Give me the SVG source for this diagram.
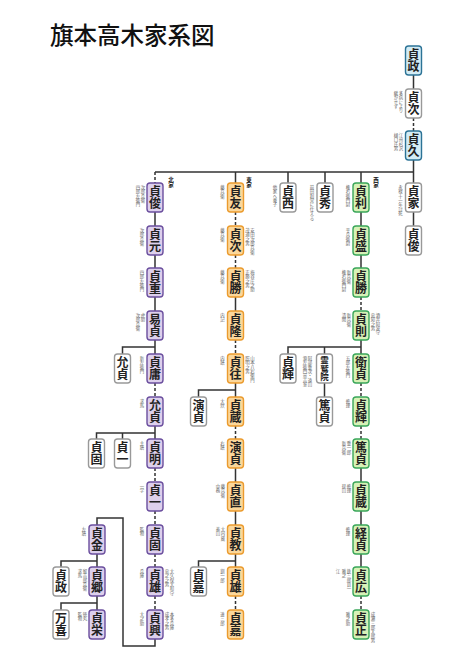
<svg xmlns="http://www.w3.org/2000/svg" width="474" height="669" viewBox="0 0 474 669">
<style>
.bg{fill:#fff}
rect.n{stroke-width:1.4}
.p{fill:#ddd0ec;stroke:#6b4f9e}
.o{fill:#fbd79b;stroke:#eb9b2e}
.g{fill:#d7f1b7;stroke:#3aa65a}
.b{fill:#d3ecf5;stroke:#2c7396}
.w{fill:#fff;stroke:#999}
.nm{font-family:"Noto Sans CJK JP","Noto Sans CJK SC",sans-serif;font-size:12px;font-weight:700;fill:#222;text-anchor:middle;writing-mode:vertical-rl;letter-spacing:0.3px}
.nm3{font-family:"Noto Sans CJK JP","Noto Sans CJK SC",sans-serif;font-size:8.5px;font-weight:700;fill:#222;text-anchor:middle;writing-mode:vertical-rl}
.ann{font-family:"Noto Sans CJK JP","Noto Sans CJK SC",sans-serif;font-size:4.4px;fill:#666;writing-mode:vertical-rl}
.lab{font-family:"Noto Sans CJK JP","Noto Sans CJK SC",sans-serif;font-size:5.5px;font-weight:700;fill:#222;writing-mode:vertical-rl}
.title{font-family:"Noto Sans CJK JP","Noto Sans CJK SC",sans-serif;font-size:23.5px;font-weight:500;fill:#111}
.c path{fill:none;stroke:#333;stroke-width:1.5}
.c path.d{stroke-dasharray:3 2}
</style>
<rect class="bg" x="0" y="0" width="474" height="669"/>
<text class="title" x="50" y="44">旗本高木家系図</text>

<g class="c" id="connectors">
<path d="M413.5,75V89M413.5,160V172M155,172H413.5"/>
<path class="d" d="M413.5,118V131"/>
<path class="d" d="M155,172V183M155,383V397M155,468V482M155,511V525M155,554V567M155,596V610"/>
<path d="M155,212V226M155,255V268M155,297V311M155,340V354M155,426V439"/>
<path d="M155,347H122.5V354M155,433H96.5V439M122.5,433V439M155,639V646H123V518H97V525"/>
<path d="M97,554V567M97,596V610M97,561H61V567M97,603H61V610"/>
<path d="M235.5,172V183M235.5,297V311M235.5,383V397M235.5,468V482M235.5,511V525M235.5,554V567"/>
<path class="d" d="M235.5,212V226M235.5,255V268M235.5,340V354M235.5,426V439M235.5,596V610"/>
<path d="M235.5,390H198.5V397M235.5,561H198.5V567"/>
<path d="M288,172V183M325,172V183M413.5,172V183M413.5,212V226"/>
<path d="M361,172V183M361,212V226M361,255V268M361,340V354M361,468V482M361,511V525M361,554V567"/>
<path class="d" d="M361,297V311M361,383V397M361,426V439M361,596V610"/>
<path d="M361,347H288V354M324.5,347V354M324.5,383V397"/>
</g>

<g id="n-sadamasa"><rect class="n b" x="405.5" y="46" width="16" height="29" rx="3"/><text class="nm" x="413.5" y="60.5">貞政</text></g>
<g id="n-sadatsugu0"><rect class="n w" x="405.5" y="89" width="16" height="29" rx="3"/><text class="nm" x="413.5" y="103.5">貞次</text><text class="ann" x="401" y="91">多病により</text><text class="ann" x="396" y="91">継がせず</text></g>
<g id="n-sadahisa"><rect class="n b" x="405.5" y="131" width="16" height="29" rx="3"/><text class="nm" x="413.5" y="145.5">貞久</text><text class="ann" x="401" y="133">江州杉沢</text><text class="ann" x="396" y="133">樋口氏男</text></g>

<text class="lab" x="171" y="177">北家</text>
<text class="lab" x="249" y="177">東家</text>
<text class="lab" x="376" y="177">西家</text>

<g id="n-n0"><rect class="n p" x="147" y="183" width="16" height="29" rx="3"/><text class="nm" x="155" y="197.5">貞俊</text><text class="ann" x="143" y="185">次郎兵衛</text><text class="ann" x="138" y="185">四郎左衛門</text></g>
<g id="n-n1"><rect class="n p" x="147" y="226" width="16" height="29" rx="3"/><text class="nm" x="155" y="240.5">貞元</text><text class="ann" x="142" y="228">次郎兵衛</text></g>
<g id="n-n2"><rect class="n p" x="147" y="268" width="16" height="29" rx="3"/><text class="nm" x="155" y="282.5">貞重</text><text class="ann" x="142" y="270">四郎左衛門</text></g>
<g id="n-n3"><rect class="n p" x="147" y="311" width="16" height="29" rx="3"/><text class="nm" x="155" y="325.5">易貞</text><text class="ann" x="143" y="313">虎助</text><text class="ann" x="138" y="313">次郎兵衛</text></g>
<g id="n-n4"><rect class="n p" x="147" y="354" width="16" height="29" rx="3"/><text class="nm" x="155" y="368.5">貞庸</text><text class="ann" x="142" y="356">新左衛門</text></g>
<g id="n-n5"><rect class="n p" x="147" y="397" width="16" height="29" rx="3"/><text class="nm" x="155" y="411.5">允貞</text><text class="ann" x="142" y="399">求馬</text></g>
<g id="n-n6"><rect class="n p" x="147" y="439" width="16" height="29" rx="3"/><text class="nm" x="155" y="453.5">貞明</text><text class="ann" x="142" y="441">主膳</text></g>
<g id="n-n7"><rect class="n p" x="147" y="482" width="16" height="29" rx="3"/><text class="nm" x="155" y="496.5">貞一</text><text class="ann" x="142" y="484">一学</text></g>
<g id="n-n8"><rect class="n p" x="147" y="525" width="16" height="29" rx="3"/><text class="nm" x="155" y="539.5">貞固</text><text class="ann" x="142" y="527">監物</text></g>
<g id="n-n9"><rect class="n p" x="147" y="567" width="16" height="29" rx="3"/><text class="nm" x="155" y="581.5">貞雄</text><text class="ann" x="142" y="569">兵庫</text><text class="ann" x="172" y="569">大久保大和守</text><text class="ann" x="167" y="569">忠之之男</text></g>
<g id="n-n10"><rect class="n p" x="147" y="610" width="16" height="29" rx="3"/><text class="nm" x="155" y="624.5">貞興</text><text class="ann" x="142" y="612">大之助</text><text class="ann" x="172" y="612">本多兵庫</text><text class="ann" x="167" y="612">成孝之男</text></g>
<g id="n-w-masasada"><rect class="n w" x="114.5" y="354" width="16" height="29" rx="3"/><text class="nm" x="122.5" y="368.5">允貞</text></g>
<g id="n-w-sadakata"><rect class="n w" x="88.5" y="439" width="16" height="29" rx="3"/><text class="nm" x="96.5" y="453.5">貞固</text></g>
<g id="n-w-sadakazu"><rect class="n w" x="114.5" y="439" width="16" height="29" rx="3"/><text class="nm" x="122.5" y="453.5">貞一</text></g>
<g id="n-sadakane"><rect class="n p" x="89" y="525" width="16" height="29" rx="3"/><text class="nm" x="97" y="539.5">貞金</text><text class="ann" x="84" y="527">左膳</text></g>
<g id="n-sadasato"><rect class="n p" x="89" y="567" width="16" height="29" rx="3"/><text class="nm" x="97" y="581.5">貞郷</text><text class="ann" x="85" y="569">留吉郎兵衛</text><text class="ann" x="80" y="569">求馬</text></g>
<g id="n-sadahide2"><rect class="n p" x="89" y="610" width="16" height="29" rx="3"/><text class="nm" x="97" y="624.5">貞栄</text><text class="ann" x="85" y="612">徳丸</text><text class="ann" x="80" y="612">監物</text></g>
<g id="n-w-sadamasa2"><rect class="n w" x="53" y="567" width="16" height="29" rx="3"/><text class="nm" x="61" y="581.5">貞政</text></g>
<g id="n-w-manki"><rect class="n w" x="53" y="610" width="16" height="29" rx="3"/><text class="nm" x="61" y="624.5">万喜</text></g>

<g id="n-e0"><rect class="n o" x="227.5" y="183" width="16" height="29" rx="3"/><text class="nm" x="235.5" y="197.5">貞友</text><text class="ann" x="222.5" y="185">藤兵衛</text></g>
<g id="n-e1"><rect class="n o" x="227.5" y="226" width="16" height="29" rx="3"/><text class="nm" x="235.5" y="240.5">貞次</text><text class="ann" x="222.5" y="228">藤兵衛</text><text class="ann" x="252.5" y="228">安田次郎兵衛</text><text class="ann" x="247.5" y="228">茂通之男</text></g>
<g id="n-e2"><rect class="n o" x="227.5" y="268" width="16" height="29" rx="3"/><text class="nm" x="235.5" y="282.5">貞勝</text><text class="ann" x="222.5" y="270">藤兵衛</text><text class="ann" x="252.5" y="270">梅谷庄之助</text><text class="ann" x="247.5" y="270">正勝之男</text></g>
<g id="n-e3"><rect class="n o" x="227.5" y="311" width="16" height="29" rx="3"/><text class="nm" x="235.5" y="325.5">貞隆</text><text class="ann" x="222.5" y="313">内記</text></g>
<g id="n-e4"><rect class="n o" x="227.5" y="354" width="16" height="29" rx="3"/><text class="nm" x="235.5" y="368.5">貞往</text><text class="ann" x="222.5" y="356">内膳</text><text class="ann" x="252.5" y="356">山本八右衛門</text><text class="ann" x="247.5" y="356">照明之男</text></g>
<g id="n-e5"><rect class="n o" x="227.5" y="397" width="16" height="29" rx="3"/><text class="nm" x="235.5" y="411.5">貞蔵</text><text class="ann" x="222.5" y="399">大炊</text></g>
<g id="n-e6"><rect class="n o" x="227.5" y="439" width="16" height="29" rx="3"/><text class="nm" x="235.5" y="453.5">演貞</text><text class="ann" x="222.5" y="441">右膳</text></g>
<g id="n-e7"><rect class="n o" x="227.5" y="482" width="16" height="29" rx="3"/><text class="nm" x="235.5" y="496.5">貞直</text><text class="ann" x="223" y="484">藤兵衛</text><text class="ann" x="218" y="484">中務</text></g>
<g id="n-e8"><rect class="n o" x="227.5" y="525" width="16" height="29" rx="3"/><text class="nm" x="235.5" y="539.5">貞教</text><text class="ann" x="223" y="527">大内蔵</text><text class="ann" x="218" y="527">義山</text></g>
<g id="n-e9"><rect class="n o" x="227.5" y="567" width="16" height="29" rx="3"/><text class="nm" x="235.5" y="581.5">貞雄</text><text class="ann" x="222.5" y="569">釧一郎</text></g>
<g id="n-e10"><rect class="n o" x="227.5" y="610" width="16" height="29" rx="3"/><text class="nm" x="235.5" y="624.5">貞嘉</text><text class="ann" x="222.5" y="612">達三郎</text></g>
<g id="n-w-hirosada"><rect class="n w" x="190.5" y="397" width="16" height="29" rx="3"/><text class="nm" x="198.5" y="411.5">演貞</text></g>
<g id="n-w-sadayoshi"><rect class="n w" x="190.5" y="567" width="16" height="29" rx="3"/><text class="nm" x="198.5" y="581.5">貞嘉</text></g>

<g id="n-sadanishi"><rect class="n w" x="280" y="183" width="16" height="29" rx="3"/><text class="nm" x="288" y="197.5">貞西</text><text class="ann" x="275" y="185">他家へ養子</text></g>
<g id="n-sadahide"><rect class="n w" x="317" y="183" width="16" height="29" rx="3"/><text class="nm" x="325" y="197.5">貞秀</text><text class="ann" x="312" y="185">前田利常に仕える</text></g>
<g id="n-sadaie"><rect class="n w" x="405.5" y="183" width="16" height="29" rx="3"/><text class="nm" x="413.5" y="197.5">貞家</text><text class="ann" x="400.5" y="185">永禄十一年討死</text></g>
<g id="n-sadatoshi2"><rect class="n w" x="405.5" y="226" width="16" height="29" rx="3"/><text class="nm" x="413.5" y="240.5">貞俊</text></g>

<g id="n-g0"><rect class="n g" x="353" y="183" width="16" height="29" rx="3"/><text class="nm" x="361" y="197.5">貞利</text><text class="ann" x="348" y="185">権右衛門尉</text></g>
<g id="n-g1"><rect class="n g" x="353" y="226" width="16" height="29" rx="3"/><text class="nm" x="361" y="240.5">貞盛</text><text class="ann" x="348" y="228">平兵衛尉</text></g>
<g id="n-g2"><rect class="n g" x="353" y="268" width="16" height="29" rx="3"/><text class="nm" x="361" y="282.5">貞勝</text><text class="ann" x="349" y="270">新兵衛</text><text class="ann" x="344" y="270">権右衛門尉</text></g>
<g id="n-g3"><rect class="n g" x="353" y="311" width="16" height="29" rx="3"/><text class="nm" x="361" y="325.5">貞則</text><text class="ann" x="349" y="313">新兵衛</text><text class="ann" x="344" y="313">清閑</text><text class="ann" x="378" y="313">酒井阿波守</text><text class="ann" x="373" y="313">忠知之男</text></g>
<g id="n-g4"><rect class="n g" x="353" y="354" width="16" height="29" rx="3"/><text class="nm" x="361" y="368.5">衛貞</text><text class="ann" x="348" y="356">五郎左衛門</text></g>
<g id="n-g5"><rect class="n g" x="353" y="397" width="16" height="29" rx="3"/><text class="nm" x="361" y="411.5">貞輝</text><text class="ann" x="348" y="399">修理</text></g>
<g id="n-g6"><rect class="n g" x="353" y="439" width="16" height="29" rx="3"/><text class="nm" x="361" y="453.5">篤貞</text><text class="ann" x="349" y="441">重一郎</text><text class="ann" x="344" y="441">新兵衛</text></g>
<g id="n-g7"><rect class="n g" x="353" y="482" width="16" height="29" rx="3"/><text class="nm" x="361" y="496.5">貞蔵</text><text class="ann" x="349" y="484">修理</text><text class="ann" x="344" y="484">琵山</text></g>
<g id="n-g8"><rect class="n g" x="353" y="525" width="16" height="29" rx="3"/><text class="nm" x="361" y="539.5">経貞</text><text class="ann" x="348" y="527">修理</text></g>
<g id="n-g9"><rect class="n g" x="353" y="567" width="16" height="29" rx="3"/><text class="nm" x="361" y="581.5">貞広</text><text class="ann" x="349" y="569">鉄三郎貞一</text><text class="ann" x="344" y="569">雅之</text><text class="ann" x="338" y="569">江</text></g>
<g id="n-g10"><rect class="n g" x="353" y="610" width="16" height="29" rx="3"/><text class="nm" x="361" y="624.5">貞正</text><text class="ann" x="348" y="612">雅之助</text><text class="ann" x="373" y="612">成瀬三郎太郎男</text></g>
<g id="n-w-sadateru"><rect class="n w" x="280" y="354" width="16" height="29" rx="3"/><text class="nm" x="288" y="368.5">貞輝</text></g>
<g id="n-w-ryojuin"><rect class="n w" x="316.5" y="354" width="16" height="29" rx="3"/><text class="nm3" x="324.5" y="368.5">霊鷲院</text><text class="ann" x="310" y="356">阿部重次・遠山</text><text class="ann" x="305" y="356">源左衛門景吉室</text></g>
<g id="n-w-atsusada"><rect class="n w" x="316.5" y="397" width="16" height="29" rx="3"/><text class="nm" x="324.5" y="411.5">篤貞</text></g>
</svg>
